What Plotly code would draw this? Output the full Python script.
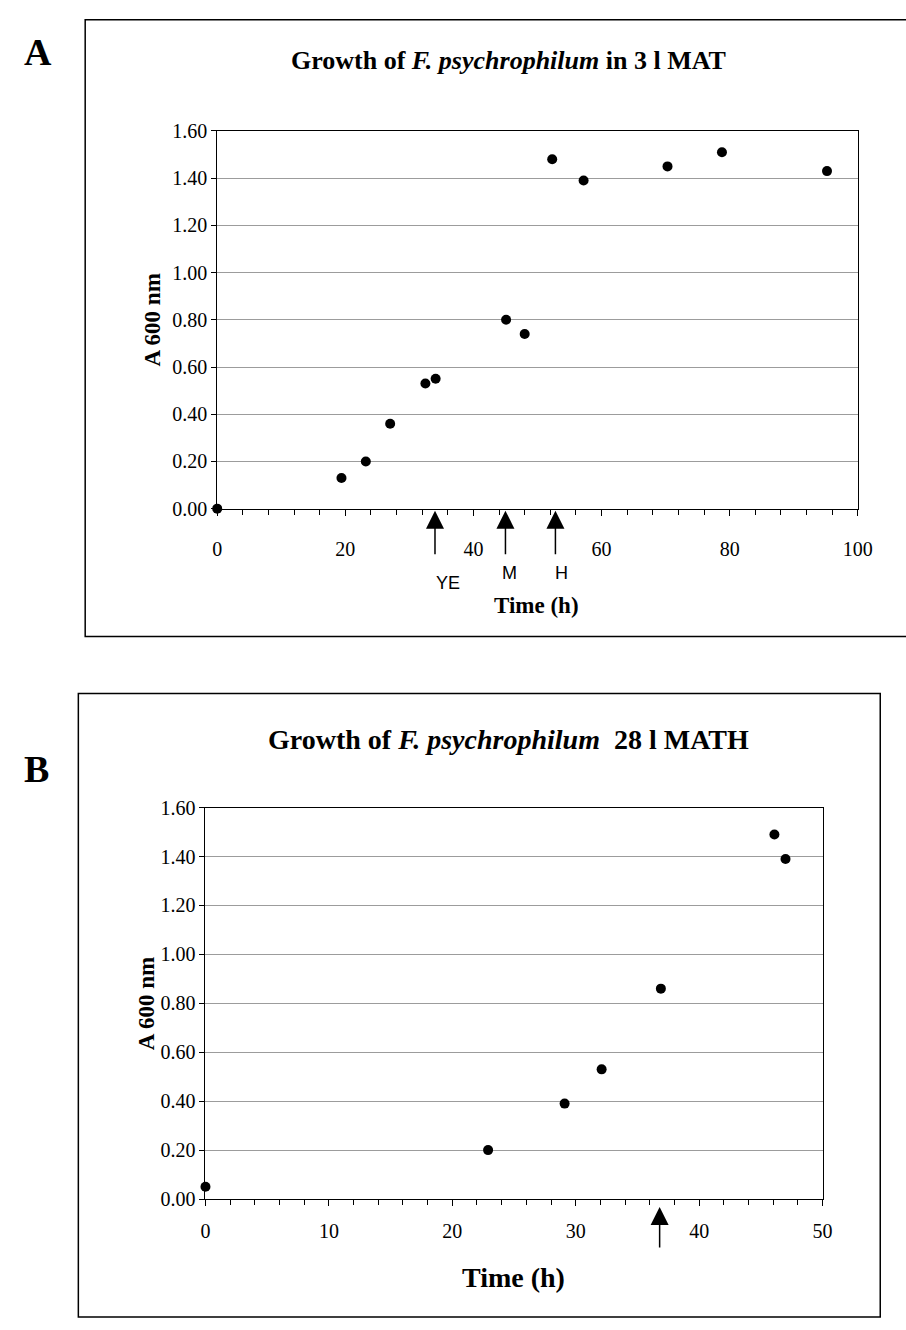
import plotly.graph_objects as go

# ---- Data ----
time_A = [0, 19.4, 23.2, 27.0, 32.5, 34.1, 45.1, 48.0, 52.3, 57.2, 70.3, 78.8, 95.2]
abs_A = [0.00, 0.13, 0.20, 0.36, 0.53, 0.55, 0.80, 0.74, 1.48, 1.39, 1.45, 1.51, 1.43]

time_B = [0, 22.9, 29.1, 32.1, 36.9, 46.1, 47.0]
abs_B = [0.05, 0.20, 0.39, 0.53, 0.86, 1.49, 1.39]

arrow_times_A = [34.0, 45.0, 52.8]
arrow_labels_A = ["YE", "M", "H"]
arrow_label_x_A = [36.0, 45.6, 53.8]
arrow_times_B = [36.8]

title_A = "<b>Growth of <i>F. psychrophilum</i> in 3 l MAT</b>"
title_B = "<b>Growth of <i>F. psychrophilum</i>  28 l MATH</b>"
ytitle = "<b>A 600 nm</b>"
xtitle = "<b>Time (h)</b>"

W, H = 906, 1330
SERIF = "Liberation Serif"
SANS = "Liberation Sans"

def px_x(p):
    return p / W

def px_y(p):
    return 1 - p / H

fig = go.Figure()
fig.add_trace(go.Scatter(x=time_A, y=abs_A, mode="markers", xaxis="x", yaxis="y",
                         marker=dict(color="black", size=10), cliponaxis=False,
                         showlegend=False))
fig.add_trace(go.Scatter(x=time_B, y=abs_B, mode="markers", xaxis="x2", yaxis="y2",
                         marker=dict(color="black", size=10), cliponaxis=False,
                         showlegend=False))

tickfont = dict(family=SERIF, size=20, color="black")

def yax(domain, anchor):
    return dict(domain=domain, anchor=anchor, range=[0, 1.6], dtick=0.2,
                tickformat=".2f", showgrid=True, gridcolor="#9c9c9c", gridwidth=1,
                zeroline=False, showline=True, linecolor="black", linewidth=1,
                mirror=True, ticks="outside", ticklen=5, tickcolor="black",
                tickfont=tickfont, fixedrange=True)

def xax(domain, anchor, rng, dtick, minor, standoff):
    return dict(domain=domain, anchor=anchor, range=rng, dtick=dtick,
                showgrid=False, zeroline=False, showline=True, linecolor="black",
                linewidth=1, mirror=True, ticks="outside", ticklen=6,
                tickcolor="black", tickfont=tickfont,
                minor=dict(dtick=minor, ticks="outside", ticklen=5, tickcolor="black",
                           showgrid=False),
                ticklabelstandoff=standoff, fixedrange=True)

dom_xA = [px_x(217), px_x(872)]
dom_yA = [px_y(506), px_y(122)]
dom_xB = [px_x(205), px_x(836)]
dom_yB = [px_y(1208), px_y(810)]

fig.update_layout(
    width=W, height=H, margin=dict(l=0, r=0, t=0, b=0),
    paper_bgcolor="white", plot_bgcolor="white",
    xaxis=xax(dom_xA, "y", [0, 100], 20, 4, 16),
    yaxis=yax(dom_yA, "x"),
    xaxis2=xax(dom_xB, "y2", [0, 50], 10, 2, 8),
    yaxis2=yax(dom_yB, "x2"),
)

def txt(text, x, y, size, angle=0, family=SERIF):
    return dict(text=text, x=px_x(x), y=px_y(y), xref="paper", yref="paper",
                xanchor="center", yanchor="middle", showarrow=False, textangle=angle,
                font=dict(family=family, size=size, color="black"))

ann = []
# Panel letters
ann.append(txt("<b>A</b>", 34, 42, 38))
ann.append(txt("<b>B</b>", 32, 771, 38))
# Titles
ann.append(txt(title_A, 515, 50, 26))
ann.append(txt(title_B, 515, 741, 28))
# Y axis titles
ann.append(txt(ytitle, 151, (506 + 122) / 2, 23, angle=-90))
ann.append(txt(ytitle, 144, (1208 + 810) / 2, 23, angle=-90))
# X axis titles
ann.append(txt(xtitle, 544, 604, 23))
ann.append(txt(xtitle, 520, 1288, 28))

# Arrows
for t in arrow_times_A:
    ann.append(dict(x=t, y=0, xref="x", yref="y", text="", showarrow=True,
                    ax=0, ay=45, arrowhead=2, arrowsize=2.4, arrowwidth=1.5,
                    arrowcolor="black", yshift=-2))
for t in arrow_times_B:
    ann.append(dict(x=t, y=0, xref="x2", yref="y2", text="", showarrow=True,
                    ax=0, ay=42, arrowhead=2, arrowsize=2.4, arrowwidth=1.5,
                    arrowcolor="black", yshift=-8))
for lab, lx in zip(arrow_labels_A, arrow_label_x_A):
    shift = -74 if lab == "YE" else -64
    ann.append(dict(text=lab, x=lx, y=0, xref="x", yref="y", showarrow=False,
                    xanchor="center", yanchor="middle",
                    yshift=shift, font=dict(family=SANS, size=18, color="black")))

fig.update_layout(annotations=ann)

# Panel frames
fig.add_shape(type="rect", xref="paper", yref="paper", x0=px_x(82), x1=1.02,
              y0=px_y(636), y1=px_y(9), line=dict(color="black", width=1.5))
fig.add_shape(type="rect", xref="paper", yref="paper", x0=px_x(75), x1=px_x(895),
              y0=px_y(1328), y1=px_y(694), line=dict(color="black", width=1.5))

fig.write_html("out.html", config={"displayModeBar": False},
               post_script="document.body.style.margin='0';"
                           "document.documentElement.style.overflow='hidden';")
